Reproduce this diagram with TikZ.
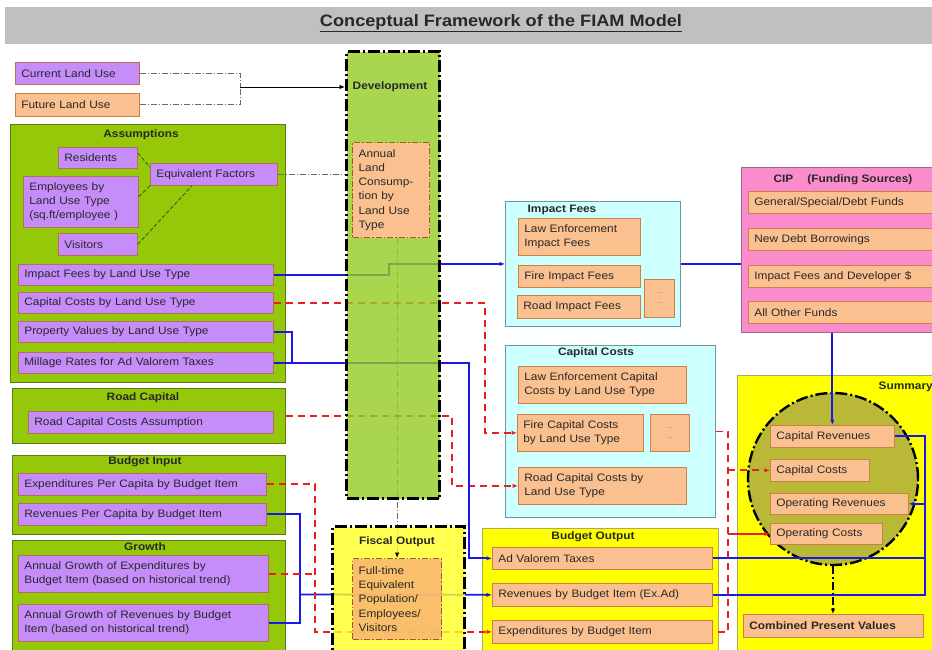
\documentclass[tikz,border=0pt]{standalone}
\usepackage{fontspec}
\setmainfont{Liberation Sans}[FakeStretch=1.1]
\usetikzlibrary{arrows.meta,shapes.geometric}
\pgfdeclarelayer{back}
\pgfdeclarelayer{bg}
\pgfsetlayers{back,bg,main}
\definecolor{purp}{RGB}{198,140,250}
\definecolor{purpb}{RGB}{180,110,90}
\definecolor{orng}{RGB}{250,192,143}
\definecolor{orngb}{RGB}{200,130,70}
\definecolor{assg}{RGB}{150,200,10}
\definecolor{assgb}{RGB}{90,125,20}
\definecolor{devg}{RGB}{149,204,36}
\definecolor{fiscy}{RGB}{255,255,36}
\definecolor{fteo}{RGB}{249,176,115}
\definecolor{cyanb}{RGB}{205,255,255}
\definecolor{cyanbd}{RGB}{110,150,160}
\definecolor{pinkb}{RGB}{250,140,205}
\definecolor{pinkbd}{RGB}{150,110,140}
\definecolor{yel}{RGB}{255,255,0}
\definecolor{yelbd}{RGB}{170,170,90}
\definecolor{olive}{RGB}{185,185,55}
\definecolor{tgray}{RGB}{192,192,192}
\definecolor{txtc}{RGB}{40,40,40}
\definecolor{bluec}{RGB}{25,25,230}
\definecolor{redc}{RGB}{235,30,30}
\definecolor{gdc}{RGB}{50,100,20}
\definecolor{brn}{RGB}{160,90,40}
\tikzset{
  bbase/.style={anchor=north west, inner xsep=6pt, inner ysep=1pt, align=left,
    font=\fontsize{10.8}{14.2}\selectfont, text=txtc, line width=0.7pt},
  pbox/.style={bbase, fill=purp, draw=purpb},
  obox/.style={bbase, fill=orng, draw=orngb},
  cont/.style={anchor=north west, inner sep=0pt, line width=0.9pt},
  lbl/.style={font=\bfseries\fontsize{10.8}{12}\selectfont, text=txtc, inner sep=1pt},
  arr/.style={-{Latex[length=5.5pt,width=4.5pt]}},
  blu/.style={draw=bluec, line width=1.8pt},
  rdd/.style={draw=redc, line width=1.8pt, dash pattern=on 7pt off 5pt},
  ddg/.style={draw=gray!85!black, line width=0.8pt, dash pattern=on 6pt off 2pt on 1pt off 2pt},
  gdash/.style={draw=gdc, line width=0.9pt, dash pattern=on 4pt off 2pt},
  ddb/.style={line width=3pt, dash pattern=on 12pt off 3pt on 2pt off 3pt},
  ddbrn/.style={draw=brn, line width=1.2pt, dash pattern=on 6pt off 2pt on 1.5pt off 2pt},
  dotbox/.style={anchor=north west, fill=orng, draw=orngb, line width=0.7pt, inner sep=0pt,
    align=center, font=\fontsize{7}{10}\selectfont, text=gray},
}
\begin{document}
\begin{tikzpicture}[x=1pt,y=-1pt]
\useasboundingbox (0,0) rectangle (932,649);
\clip (0,0) rectangle (932,649);
\begin{pgfonlayer}{back}
\fill[white] (0,0) rectangle (932,649);
% opaque containers
\node[cont, fill=assg, draw=assgb, minimum width=275pt, minimum height=258pt] (assump) at (10,124) {};
\node[cont, fill=assg, draw=assgb, minimum width=273pt, minimum height=55pt] (roadcap) at (12,388) {};
\node[cont, fill=assg, draw=assgb, minimum width=273pt, minimum height=79pt] (budin) at (12,455) {};
\node[cont, fill=assg, draw=assgb, minimum width=273pt, minimum height=120pt] (growth) at (12,540) {};
\node[cont, fill=cyanb, draw=cyanbd, minimum width=175pt, minimum height=125pt] (iff) at (505,201) {};
\node[cont, fill=cyanb, draw=cyanbd, minimum width=210pt, minimum height=172pt] (ccb) at (505,345) {};
\node[cont, fill=yel, draw=yelbd, minimum width=236pt, minimum height=130pt] (bout) at (482,528) {};
\end{pgfonlayer}
% title
\node[cont, fill=tgray, minimum width=935pt, minimum height=37pt] (tbar) at (5,7) {};
\node[font=\bfseries\fontsize{16.5}{18}\selectfont, text=txtc] (ttl) at (501,23) {\underline{Conceptual Framework of the FIAM Model}};
% land use
\node[pbox, text width=112pt, minimum height=22pt] (cur) at (15,62) {Current Land Use};
\node[obox, text width=112pt, minimum height=23pt] (fut) at (15,93) {Future Land Use};
% assumptions
\node[lbl] (asslbl) at (141,135) {Assumptions};
\node[pbox, text width=67pt, minimum height=21pt] (res) at (58,147) {Residents};
\node[pbox, text width=103pt, minimum height=51pt] (emp) at (23,176) {Employees by\\Land Use Type\\(sq.ft/employee )};
\node[pbox, text width=67pt, minimum height=22pt] (vis) at (58,233) {Visitors};
\node[pbox, text width=115pt, minimum height=22pt] (eqf) at (150,163) {Equivalent Factors};
\node[pbox, text width=243pt, minimum height=21pt] (ifl) at (18,264) {Impact Fees by Land Use Type};
\node[pbox, text width=243pt, minimum height=21pt] (ccl) at (18,292) {Capital Costs by Land Use Type};
\node[pbox, text width=243pt, minimum height=21pt] (pvl) at (18,321) {Property Values by Land Use Type};
\node[pbox, text width=243pt, minimum height=21pt] (mrl) at (18,352) {Millage Rates for Ad Valorem Taxes};
% road capital
\node[lbl] (rclbl) at (143,398) {Road Capital};
\node[pbox, text width=233pt, minimum height=22pt] (rcca) at (28,411) {Road Capital Costs Assumption};
% budget input
\node[lbl] (bilbl) at (145,462) {Budget Input};
\node[pbox, text width=236pt, minimum height=22pt] (epc) at (18,473) {Expenditures Per Capita by Budget Item};
\node[pbox, text width=236pt, minimum height=22pt] (rpc) at (18,503) {Revenues Per Capita by Budget Item};
% growth
\node[lbl] (grlbl) at (145,547) {Growth};
\node[pbox, text width=238pt, minimum height=37pt] (gre) at (18,555) {Annual Growth of Expenditures by\\Budget Item (based on historical trend)};
\node[pbox, text width=238pt, minimum height=37pt] (grr) at (18,604) {Annual Growth of Revenues by Budget\\Item (based on historical trend)};
% development
\node[cont, fill=devg, fill opacity=0.8, draw=black, ddb, minimum width=93pt, minimum height=447pt] (dev) at (345,50) {};
\node[lbl] (devlbl) at (390,87) {Development};
\node[obox, ddbrn, text width=65pt, minimum height=95pt] (annual) at (352,142) {Annual\\Land\\Consump-\\tion by\\Land Use\\Type};
% fiscal output
\node[cont, fill=fiscy, fill opacity=0.8, draw=black, ddb, minimum width=132pt, minimum height=130pt] (fisc) at (331,525) {};
\node[lbl] (fislbl) at (397,542) {Fiscal Output};
\node[obox, ddbrn, fill=fteo, fill opacity=0.8, text opacity=1, text width=77pt, minimum height=81pt] (fte) at (352,558) {Full-time\\Equivalent\\Population/\\Employees/\\Visitors};
% impact fees
\node[lbl] (ifflbl) at (562,210) {Impact Fees};
\node[obox, text width=110pt, minimum height=37pt] (lei) at (518,218) {Law Enforcement\\Impact Fees};
\node[obox, text width=110pt, minimum height=22pt] (fif) at (518,265) {Fire Impact Fees};
\node[obox, text width=111pt, minimum height=23pt] (rif) at (517,295) {Road Impact Fees};
\node[dotbox, minimum width=30pt, minimum height=38pt] (dots1) at (644,279) {...\\...};
% CIP
\node[cont, fill=pinkb, draw=pinkbd, minimum width=200pt, minimum height=165pt] (cip) at (741,167) {};
\node[lbl] (ciplbl) at (843,180) {CIP\hspace{1.3em}(Funding Sources)};
\node[obox, text width=178pt, minimum height=22pt] (gsd) at (748,191) {General/Special/Debt Funds};
\node[obox, text width=178pt, minimum height=22pt] (ndb) at (748,228) {New Debt Borrowings};
\node[obox, text width=178pt, minimum height=22pt] (ifd) at (748,265) {Impact Fees and Developer \$};
\node[obox, text width=178pt, minimum height=22pt] (aof) at (748,301) {All Other Funds};
% capital costs
\node[lbl] (ccblbl) at (596,353) {Capital Costs};
\node[obox, text width=156pt, minimum height=37pt] (lecc) at (518,366) {Law Enforcement Capital\\Costs by Land Use Type};
\node[obox, text width=114pt, minimum height=37pt] (fcc) at (517,414) {Fire Capital Costs\\by Land Use Type};
\node[dotbox, minimum width=39pt, minimum height=37pt] (dots2) at (650,414) {...\\...};
\node[obox, text width=156pt, minimum height=37pt] (rcc) at (518,467) {Road Capital Costs by\\Land Use Type};
% budget output
\node[lbl] (boutlbl) at (593,537) {Budget Output};
\node[obox, text width=208pt, minimum height=22pt] (adv) at (492,547) {Ad Valorem Taxes};
\node[obox, text width=208pt, minimum height=23pt] (rbi) at (492,583) {Revenues by Budget Item (Ex.Ad)};
\node[obox, text width=208pt, minimum height=23pt] (ebi) at (492,620) {Expenditures by Budget Item};
% summary
\node[cont, fill=yel, draw=yelbd, minimum width=200pt, minimum height=290pt] (summ) at (737,375) {};
\node[lbl, anchor=east] (summlbl) at (934,387) {Summary};
\node[ellipse, fill=olive, draw=black, line width=2.4pt, dash pattern=on 12pt off 3pt on 2pt off 3pt, minimum width=170pt, minimum height=172pt, inner sep=0pt] (circ) at (833,479) {};
\node[obox, text width=112pt, minimum height=22pt] (caprev) at (770,425) {Capital Revenues};
\node[obox, text width=87pt, minimum height=22pt] (capcost) at (770,459) {Capital Costs};
\node[obox, text width=126pt, minimum height=21pt] (oprev) at (770,493) {Operating Revenues};
\node[obox, text width=100pt, minimum height=21pt] (opcost) at (770,523) {Operating Costs};
\node[obox, text width=168pt, minimum height=23pt, font=\bfseries\fontsize{10.8}{12}\selectfont] (cpv) at (743,614) {Combined Present Values};
% connectors under the translucent boxes
\begin{pgfonlayer}{bg}
\draw[blu, arr] (ifl.east) -- ++(115,0) |- (iff.west);
\draw[rdd, arr] (ccl.east) -| ([xshift=-32pt]fcc.west) -- (fcc.west);
\draw[rdd, arr] (roadcap.east) -| ([xshift=-66pt]rcc.west) -- (rcc.west);
\draw[blu] (pvl.east) -- ++(18,0) |- (mrl.east);
\draw[blu, arr] (mrl.east) -| ([xshift=-23pt]adv.west) -- (adv.west);
\coordinate (bj) at (300,594.5);
\draw[blu] (rpc.east) -| (bj);
\draw[blu] (grr.east) -| (bj);
\draw[blu, arr] (bj) -- (rbi.west);
\draw[rdd, arr] (epc.east) -| ([xshift=-177pt]ebi.west) -- (ebi.west);
\draw[rdd] (gre.east) -- ++(47,0);
\draw[ddg] (annual.south -| fte.north) -- (fte.north);
\end{pgfonlayer}
% other connectors
\coordinate (lj) at (240,87);
\draw[ddg] (cur.east) -| (lj);
\draw[ddg] (fut.east) -| (lj);
\draw[black, line width=0.9pt, arr] (lj) -- (lj -| dev.west);
\draw[gdash] ([yshift=5pt]res.east) -- ([yshift=7pt]eqf.west);
\draw[gdash] ([yshift=5pt]emp.east) -- (eqf.south west);
\draw[gdash] (vis.east) -- ([xshift=42pt]eqf.south west);
\draw[ddg] (eqf.east) -- (eqf.east -| dev.west);
\draw[black, line width=0.9pt, arr] ([yshift=5pt]fte.north) -- (fte.north);
\draw[blu] (iff.east) -- (iff.east -| cip.west);
\draw[blu, arr] (caprev.north |- cip.south) -- (caprev.north);
\coordinate (bus) at (925,436);
\draw[blu] (caprev.east) -- (caprev.east -| bus) -- (rbi.east -| bus) -- (rbi.east);
\draw[blu] (adv.east) -- (adv.east -| bus);
\draw[blu, arr] (oprev.east -| bus) -- (oprev.east);
\coordinate (rv) at (728,431);
\draw[rdd] (ccb.east) -- (ccb.east -| rv) -- (ebi.east -| rv) -- (ebi.east);
\draw[rdd, arr] (capcost.west -| rv) -- (capcost.west);
\draw[draw=redc, line width=1.8pt, arr] (opcost.west -| rv) -- (opcost.west);
\draw[black, line width=1.8pt, dash pattern=on 8pt off 3pt on 1.5pt off 3pt, arr] (circ.south) -- (circ.south |- cpv.north);
\end{tikzpicture}
\end{document}
